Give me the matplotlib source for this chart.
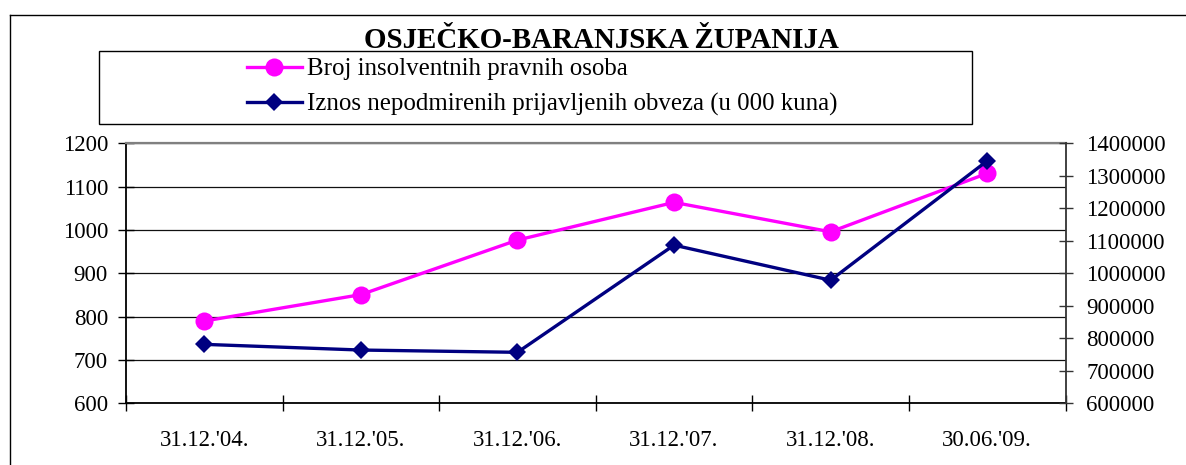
import matplotlib
matplotlib.use("Agg")
import matplotlib.pyplot as plt
from matplotlib.lines import Line2D
from matplotlib.patches import Rectangle
import numpy as np

# ---- data ----
categories = ["31.12.'04.", "31.12.'05.", "31.12.'06.", "31.12.'07.", "31.12.'08.", "30.06.'09."]
broj_insolventnih = [790, 851, 977, 1064, 996, 1131]
iznos_obveza = [781500, 764000, 757000, 1087000, 979000, 1346500]
left_ticks = [600, 700, 800, 900, 1000, 1100, 1200]
right_ticks = [600000, 700000, 800000, 900000, 1000000, 1100000, 1200000, 1300000, 1400000]
title_text = "OSJEČKO-BARANJSKA ŽUPANIJA"
label_broj = "Broj insolventnih pravnih osoba"
label_iznos = "Iznos nepodmirenih prijavljenih obveza (u 000 kuna)"

W, H = 1186, 465
DPI = 100
plt.rcParams['font.family'] = ['Liberation Serif', 'DejaVu Serif']

fig = plt.figure(figsize=(W / DPI, H / DPI), dpi=DPI, facecolor='white')

def fx(px):
    return px / W

def fy(py):
    return 1 - py / H

# axes area in pixels: left 126, right 1065.5, top 143.5, bottom 403.3
ax = fig.add_axes([fx(126), fy(403.3), fx(1065.5) - fx(126), fy(143.5) - fy(403.3)])
ax2 = ax.twinx()

x = np.arange(len(categories))
l1, = ax.plot(x, broj_insolventnih, color='#FF00FF', lw=2.4, marker='o', ms=13,
              markeredgewidth=0, label=label_broj, clip_on=False, zorder=3)
l2, = ax2.plot(x, iznos_obveza, color='#000080', lw=2.4, marker='D', ms=9.5,
               markeredgewidth=0, label=label_iznos, clip_on=False, zorder=3)

ax.set_xlim(-0.5, len(categories) - 0.5)
ax.set_ylim(left_ticks[0], left_ticks[-1])
ax2.set_ylim(right_ticks[0], right_ticks[-1])

# x ticks: major at boundaries (no labels), minor at centers (labels)
ax.set_xticks(np.arange(-0.5, len(categories), 1.0))
ax.set_xticklabels([])
ax.set_xticks(x, minor=True)
ax.set_xticklabels(categories, minor=True, fontsize=16.5)
ax.tick_params(axis='x', which='major', direction='inout', length=11, width=1, color='black')
ax.tick_params(axis='x', which='minor', length=0, pad=19)

ax.set_yticks(left_ticks)
ax.set_yticklabels([str(v) for v in left_ticks], fontsize=16.5)
ax.tick_params(axis='y', direction='inout', length=11, width=1, pad=7.5, color='black')

ax2.set_yticks(right_ticks)
ax2.set_yticklabels([str(v) for v in right_ticks], fontsize=16.5)
ax2.tick_params(axis='y', direction='inout', length=10, width=1, pad=10, color='#333333')

# gridlines
ax.yaxis.grid(True, color='#111111', lw=0.9)
ax.set_axisbelow(True)

for s in ['left', 'bottom']:
    ax.spines[s].set_color('black')
    ax.spines[s].set_linewidth(1.3)
ax.spines['top'].set_color('#808080')
ax.spines['top'].set_linewidth(1.6)
ax.spines['right'].set_visible(False)
for s in ['left', 'bottom', 'top']:
    ax2.spines[s].set_visible(False)
ax2.spines['right'].set_color('#333333')
ax2.spines['right'].set_linewidth(1.3)

# title
fig.text(fx(601.5), fy(48.3), title_text, ha='center', va='baseline',
         fontsize=20.9, fontweight='bold')

# legend box
fig.patches.append(Rectangle((fx(99), fy(123.5)), fx(972) - fx(99), fy(50.5) - fy(123.5),
                             transform=fig.transFigure, fill=False, edgecolor='black',
                             lw=1.0, zorder=5))
leg = fig.legend(handles=[l1, l2], labels=[label_broj, label_iznos],
                 loc='upper left', bbox_to_anchor=(fx(247), fy(58)),
                 bbox_transform=fig.transFigure, frameon=False, fontsize=17.9,
                 handlelength=2.2, handletextpad=0.2, labelspacing=0.52,
                 borderpad=0, borderaxespad=0, markerscale=1.0)

# outer border (top and left lines)
fig.add_artist(Line2D([fx(9.6), fx(W)], [fy(15), fy(15)], transform=fig.transFigure,
                      color='black', lw=1.0))
fig.add_artist(Line2D([fx(9.6), fx(9.6)], [fy(15), fy(H)], transform=fig.transFigure,
                      color='black', lw=1.0))

fig.savefig('out.png', dpi=DPI, facecolor='white')
